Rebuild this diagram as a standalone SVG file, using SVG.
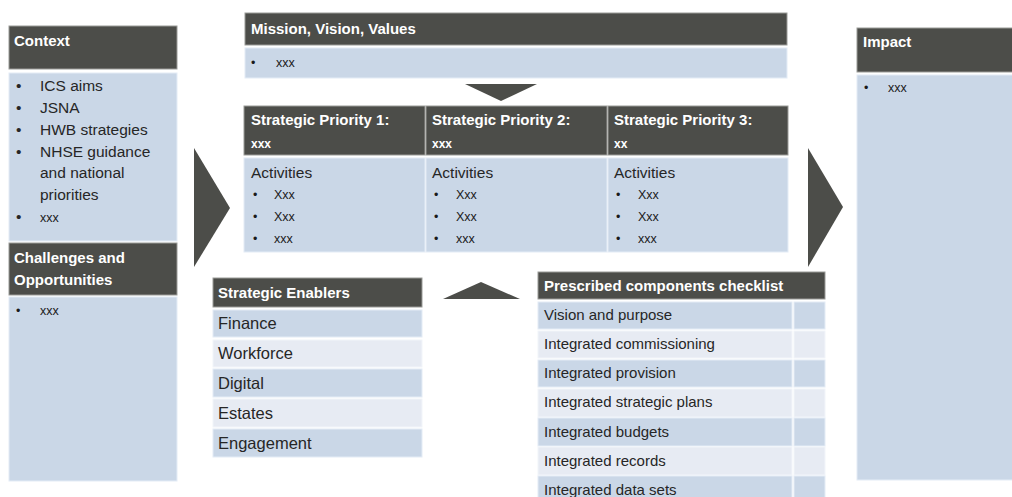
<svg xmlns="http://www.w3.org/2000/svg" width="1012" height="497" viewBox="0 0 1012 497">
<style>
.hd{fill:#4c4d49;stroke:#9a9b98;stroke-width:1}
.bd{fill:#cad7e7;stroke:#e4ecf6;stroke-width:1}
.lt{fill:#e7ebf3;stroke:#f2f5fa;stroke-width:1}
.ar{fill:#4c4d49}
text{font-family:"Liberation Sans",Arial,sans-serif}
.ht{fill:#ffffff;font-size:15px;font-weight:bold}
.hs{fill:#ffffff;font-size:12px;font-weight:bold}
.tx{fill:#262626;font-size:15.5px}
.sm{fill:#1a1a1a;font-size:12.5px}
.en{fill:#262626;font-size:16.5px}
.ck{fill:#262626;font-size:15px}
</style>
<g id="connectors">
<polygon class="ar" points="194,148 230,208 194,267"/>
<polygon class="ar" points="808,148 843,207 808,267"/>
<polygon class="ar" points="465,84 537,84 501,101"/>
<polygon class="ar" points="443,299 520,299 481,282"/>
</g>
<g id="context">
<rect class="hd" x="9" y="26" width="168" height="43"/>
<text class="ht" x="14" y="46">Context</text>
<rect class="bd" x="9" y="73" width="168" height="168"/>
<g class="tx">
<text x="16" y="91">•</text><text x="40" y="91">ICS aims</text>
<text x="16" y="113">•</text><text x="40" y="113">JSNA</text>
<text x="16" y="135">•</text><text x="40" y="135">HWB strategies</text>
<text x="16" y="157">•</text><text x="40" y="157">NHSE guidance</text>
<text x="40" y="178">and national</text>
<text x="40" y="200">priorities</text>
<text x="16" y="222">•</text>
</g>
<text class="sm" x="40" y="222">xxx</text>
</g>
<g id="challenges">
<rect class="hd" x="9" y="243" width="168" height="52"/>
<text class="ht" x="14" y="263">Challenges and</text>
<text class="ht" x="14" y="285">Opportunities</text>
<rect class="bd" x="9" y="297" width="168" height="184"/>
<text class="sm" x="16" y="315">•</text><text class="sm" x="40" y="315">xxx</text>
</g>
<g id="mission">
<rect class="hd" x="245" y="13" width="542" height="32"/>
<text class="ht" x="251" y="34">Mission, Vision, Values</text>
<rect class="bd" x="245" y="48" width="542" height="30"/>
<text class="sm" x="251" y="67">•</text><text class="sm" x="276" y="67">xxx</text>
</g>
<g id="priority1">
<rect class="hd" x="244" y="106" width="181" height="49"/>
<text class="ht" x="251" y="125">Strategic Priority 1:</text>
<text class="hs" x="251" y="148">xxx</text>
<rect class="bd" x="244" y="158" width="181" height="94"/>
<text class="tx" x="251" y="178">Activities</text>
<text class="sm" x="253" y="199">•</text><text class="sm" x="274" y="199">Xxx</text>
<text class="sm" x="253" y="221">•</text><text class="sm" x="274" y="221">Xxx</text>
<text class="sm" x="253" y="243">•</text><text class="sm" x="274" y="243">xxx</text>
</g>
<g id="priority2">
<rect class="hd" x="426" y="106" width="181" height="49"/>
<text class="ht" x="432" y="125">Strategic Priority 2:</text>
<text class="hs" x="432" y="148">xxx</text>
<rect class="bd" x="426" y="158" width="181" height="94"/>
<text class="tx" x="432" y="178">Activities</text>
<text class="sm" x="434" y="199">•</text><text class="sm" x="456" y="199">Xxx</text>
<text class="sm" x="434" y="221">•</text><text class="sm" x="456" y="221">Xxx</text>
<text class="sm" x="434" y="243">•</text><text class="sm" x="456" y="243">xxx</text>
</g>
<g id="priority3">
<rect class="hd" x="608" y="106" width="180" height="49"/>
<text class="ht" x="614" y="125">Strategic Priority 3:</text>
<text class="hs" x="614" y="148">xx</text>
<rect class="bd" x="608" y="158" width="180" height="94"/>
<text class="tx" x="614" y="178">Activities</text>
<text class="sm" x="616" y="199">•</text><text class="sm" x="638" y="199">Xxx</text>
<text class="sm" x="616" y="221">•</text><text class="sm" x="638" y="221">Xxx</text>
<text class="sm" x="616" y="243">•</text><text class="sm" x="638" y="243">xxx</text>
</g>
<g id="impact">
<rect class="hd" x="857" y="28" width="160" height="44"/>
<text class="ht" x="863" y="47">Impact</text>
<rect class="bd" x="857" y="75" width="160" height="405"/>
<text class="sm" x="864" y="92">•</text><text class="sm" x="888" y="92">xxx</text>
</g>
<g id="enablers">
<rect class="hd" x="213" y="278" width="209" height="29"/>
<text class="ht" x="218" y="298">Strategic Enablers</text>
<rect class="bd" x="213" y="310" width="209" height="27"/>
<text class="en" x="218" y="329">Finance</text>
<rect class="lt" x="213" y="340" width="209" height="27"/>
<text class="en" x="218" y="359">Workforce</text>
<rect class="bd" x="213" y="369" width="209" height="28"/>
<text class="en" x="218" y="389">Digital</text>
<rect class="lt" x="213" y="399" width="209" height="28"/>
<text class="en" x="218" y="419">Estates</text>
<rect class="bd" x="213" y="429" width="209" height="28"/>
<text class="en" x="218" y="449">Engagement</text>
</g>
<g id="checklist">
<rect class="hd" x="538" y="272" width="287" height="27"/>
<text class="ht" x="544" y="291">Prescribed components checklist</text>
<rect class="bd" x="538" y="302" width="254" height="27"/><rect class="bd" x="794" y="302" width="31" height="27"/>
<text class="ck" x="544" y="320">Vision and purpose</text>
<rect class="lt" x="538" y="331" width="254" height="27"/><rect class="lt" x="794" y="331" width="31" height="27"/>
<text class="ck" x="544" y="349">Integrated commissioning</text>
<rect class="bd" x="538" y="360" width="254" height="27"/><rect class="bd" x="794" y="360" width="31" height="27"/>
<text class="ck" x="544" y="378">Integrated provision</text>
<rect class="lt" x="538" y="389" width="254" height="28"/><rect class="lt" x="794" y="389" width="31" height="28"/>
<text class="ck" x="544" y="407">Integrated strategic plans</text>
<rect class="bd" x="538" y="418" width="254" height="28"/><rect class="bd" x="794" y="418" width="31" height="28"/>
<text class="ck" x="544" y="437">Integrated budgets</text>
<rect class="lt" x="538" y="447" width="254" height="28"/><rect class="lt" x="794" y="447" width="31" height="28"/>
<text class="ck" x="544" y="466">Integrated records</text>
<rect class="bd" x="538" y="476" width="254" height="25"/><rect class="bd" x="794" y="476" width="31" height="25"/>
<text class="ck" x="544" y="495">Integrated data sets</text>
</g>
</svg>
